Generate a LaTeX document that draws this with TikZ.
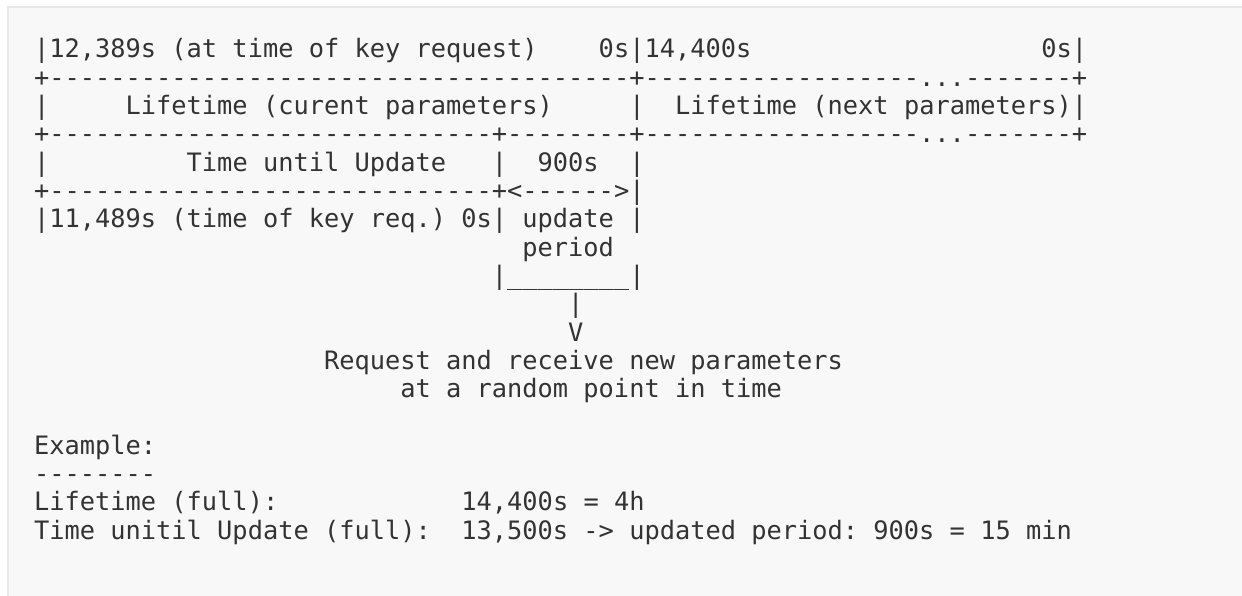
\documentclass[tikz,border=0pt]{standalone}
\usepackage{fontspec}
\setmonofont{DejaVu Sans Mono}
\usepackage{tikz}

\definecolor{codebg}{HTML}{F8F8F8}
\definecolor{codeedge}{HTML}{E8E8E8}
\definecolor{codetext}{HTML}{333333}

\begin{document}
\begin{tikzpicture}[x=1pt, y=-1pt, every node/.style={outer sep=0pt, inner sep=0pt, anchor=base west, text=codetext, font=\ttfamily\fontsize{25.35}{28.3}\selectfont}]
        \useasboundingbox (0,0) rectangle (1242,596);
        \fill[white] (0,0) rectangle (1242,596);
        \draw[codeedge, fill=codebg, line width=2pt] (8.3,7.3) rectangle (1270,630);
      % columns: x = 34.1 + col*15.26, rows: y = 58 + (row-1)*28.3
        \node (hdr) at (34.1,58) {|12,389s (at time of key request)~~~~0s|14,400s~~~~~~~~~~~~~~~~~~~0s|};
        \node (topline) at (34.1,86.3) {+--------------------------------------+------------------...-------+};
        \node (lifetime) at (34.1,114.6) {|~~~~~Lifetime (curent parameters)~~~~~|~~Lifetime (next parameters)|};
        \node (midline) at (34.1,142.9) {+-----------------------------+--------+------------------...-------+};
        \node (untilupd) at (34.1,171.2) {|~~~~~~~~~Time until Update~~~|~~900s~~|};
        \node (updline) at (34.1,199.5) {+-----------------------------+<------>|};
        \node (reqtime) at (34.1,227.8) {|11,489s (time of key req.) 0s| update |};
        \node (period) at ({34.1+32*15.26},256.1) {period};
        \node (bracket) at ({34.1+30*15.26},284.4) {|\_\_\_\_\_\_\_\_|};
        \node (stem) at ({34.1+35*15.26},312.7) {|};
        \node (tip) at ({34.1+35*15.26},341) {V};
        \node (request) at ({34.1+19*15.26},369.3) {Request and receive new parameters};
        \node (random) at ({34.1+24*15.26},397.6) {at a random point in time};
      %\node (blank) at (34.1,425.9) {};
        \node (example) at (34.1,454.2) {Example:};
        \node (exrule) at (34.1,482.5) {--------};
        \node (fulllife) at (34.1,510.8) {Lifetime (full):~~~~~~~~~~~~14,400s = 4h};
        \node (fullupd) at (34.1,539.1) {Time unitil Update (full):~~13,500s -> updated period: 900s = 15 min};
    \end{tikzpicture}
\end{document}
